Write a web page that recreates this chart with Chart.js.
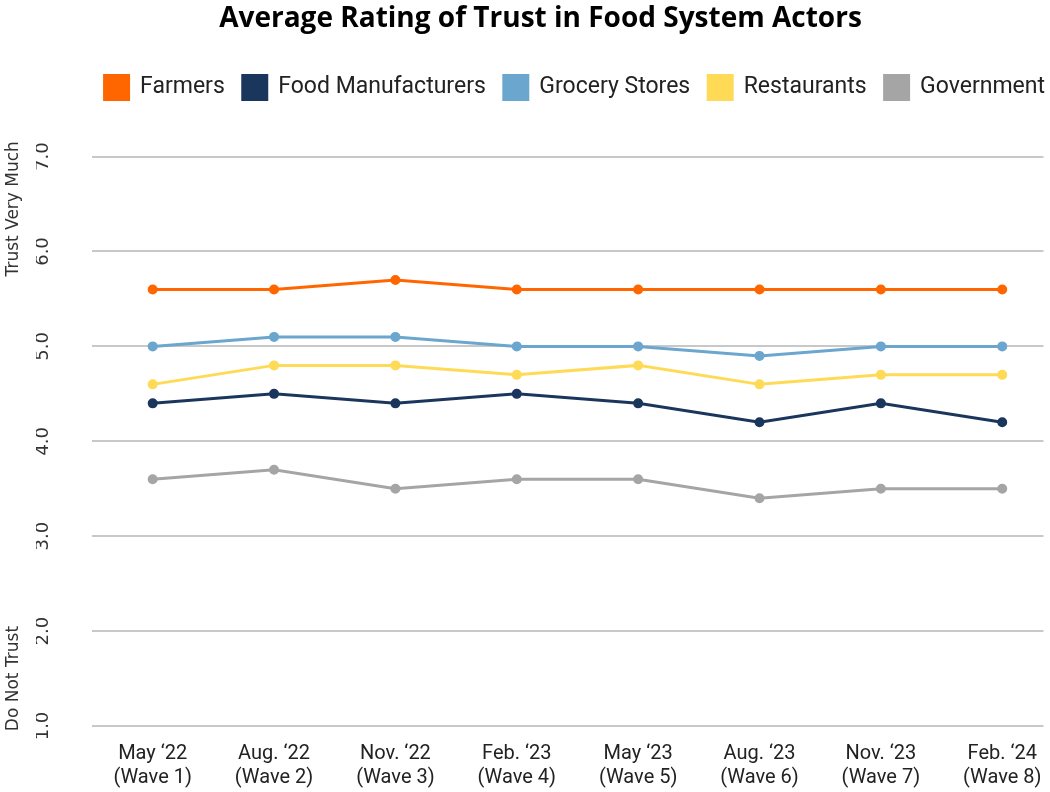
<!DOCTYPE html>
<html>
<head>
<meta charset="utf-8">
<script src="https://cdn.jsdelivr.net/npm/chart.js@4.4.1/dist/chart.umd.min.js"></script>
<style>
  html, body { margin: 0; padding: 0; background: #ffffff; }
  #wrap { width: 1050px; height: 792px; }
</style>
</head>
<body>
<div id="wrap"><canvas id="c" width="1050" height="792"></canvas></div>
<script>
const waveLabels = [
  ["May \u201822", "(Wave 1)"],
  ["Aug. \u201822", "(Wave 2)"],
  ["Nov. \u201822", "(Wave 3)"],
  ["Feb. \u201823", "(Wave 4)"],
  ["May \u201823", "(Wave 5)"],
  ["Aug. \u201823", "(Wave 6)"],
  ["Nov. \u201823", "(Wave 7)"],
  ["Feb. \u201824", "(Wave 8)"]
];
const farmers            = [5.6, 5.6, 5.7, 5.6, 5.6, 5.6, 5.6, 5.6];
const foodManufacturers  = [4.4, 4.5, 4.4, 4.5, 4.4, 4.2, 4.4, 4.2];
const groceryStores      = [5.0, 5.1, 5.1, 5.0, 5.0, 4.9, 5.0, 5.0];
const restaurants        = [4.6, 4.8, 4.8, 4.7, 4.8, 4.6, 4.7, 4.7];
const government         = [3.6, 3.7, 3.5, 3.6, 3.6, 3.4, 3.5, 3.5];
const yTicks = [1, 2, 3, 4, 5, 6, 7];
const anchorLabels = [
  { text: "Trust Very Much", value: 6.45 },
  { text: "Do Not Trust", value: 1.5 }
];

function pts(arr) { return arr.map((v, i) => ({ x: i, y: v })); }
function ds(label, arr, color) {
  return {
    label: label,
    data: pts(arr),
    borderColor: color,
    backgroundColor: color,
    borderWidth: 3,
    pointRadius: 3.5,
    pointHoverRadius: 3.5,
    pointBackgroundColor: color,
    pointBorderColor: color,
    tension: 0
  };
}

const legendSpacePlugin = {
  id: 'legendSpace',
  beforeLayout(chart) {
    const lg = chart.legend;
    if (lg && !lg._patched) {
      const orig = lg.fit.bind(lg);
      lg.fit = function () { orig(); this.height += 47; };
      lg._patched = true;
    }
  },
  afterLayout(chart) {
    const lg = chart.legend;
    if (lg) { lg.left += 18; lg.right += 18; }
  }
};

const anchorPlugin = {
  id: 'anchorText',
  afterDraw(chart) {
    const ctx = chart.ctx;
    const y = chart.scales.y;
    ctx.save();
    ctx.fillStyle = '#333333';
    ctx.font = '17px "DejaVu Sans", sans-serif';
    ctx.textAlign = 'center';
    ctx.textBaseline = 'middle';
    anchorLabels.forEach(a => {
      ctx.save();
      ctx.translate(14, y.getPixelForValue(a.value));
      ctx.rotate(-Math.PI / 2);
      ctx.fillText(a.text, 0, 0);
      ctx.restore();
    });
    ctx.restore();
  }
};

new Chart(document.getElementById('c'), {
  type: 'line',
  data: {
    datasets: [
      ds('Farmers', farmers, '#FF6600'),
      ds('Food Manufacturers', foodManufacturers, '#1B365D'),
      ds('Grocery Stores', groceryStores, '#6BA6CE'),
      ds('Restaurants', restaurants, '#FFDA57'),
      ds('Government', government, '#A5A5A5')
    ]
  },
  options: {
    responsive: false,
    animation: false,
    layout: { padding: { top: 2, right: 5, left: 36, bottom: 0 } },
    plugins: {
      title: {
        display: true,
        text: 'Average Rating of Trust in Food System Actors',
        color: '#000000',
        font: { family: '"Open Sans", Lato, sans-serif', size: 28, weight: 'bold' },
        padding: { top: 0, bottom: 22 }
      },
      legend: {
        display: true,
        align: 'end',
        labels: {
          color: '#222222',
          font: { family: 'Roboto, "Liberation Sans", sans-serif', size: 23 },
          boxWidth: 24,
          boxHeight: 24,
          padding: 18
        }
      },
      tooltip: { enabled: false }
    },
    scales: {
      x: {
        type: 'linear',
        min: -0.5,
        max: 7.34,
        grid: { display: false },
        border: { display: false },
        afterBuildTicks(axis) { axis.ticks = waveLabels.map((_, i) => ({ value: i })); },
        afterFit(axis) { axis.height = 66; },
        ticks: {
          color: '#222222',
          font: { family: 'Roboto, "Liberation Sans", sans-serif', size: 20 },
          maxRotation: 0,
          minRotation: 0,
          padding: 8,
          callback: (v) => waveLabels[v]
        }
      },
      y: {
        type: 'linear',
        min: 1,
        max: 7,
        afterBuildTicks(axis) { axis.ticks = yTicks.map(v => ({ value: v })); },
        afterFit(axis) { axis.width = 56; },
        grid: { color: '#C8C8C8', lineWidth: 2, drawTicks: false },
        border: { display: false },
        ticks: {
          color: '#333333',
          font: { family: '"DejaVu Sans", sans-serif', size: 18 },
          minRotation: 90,
          maxRotation: 90,
          crossAlign: 'center',
          padding: 34,
          callback: (v) => v.toFixed(1)
        }
      }
    }
  },
  plugins: [legendSpacePlugin, anchorPlugin]
});
</script>
</body>
</html>
